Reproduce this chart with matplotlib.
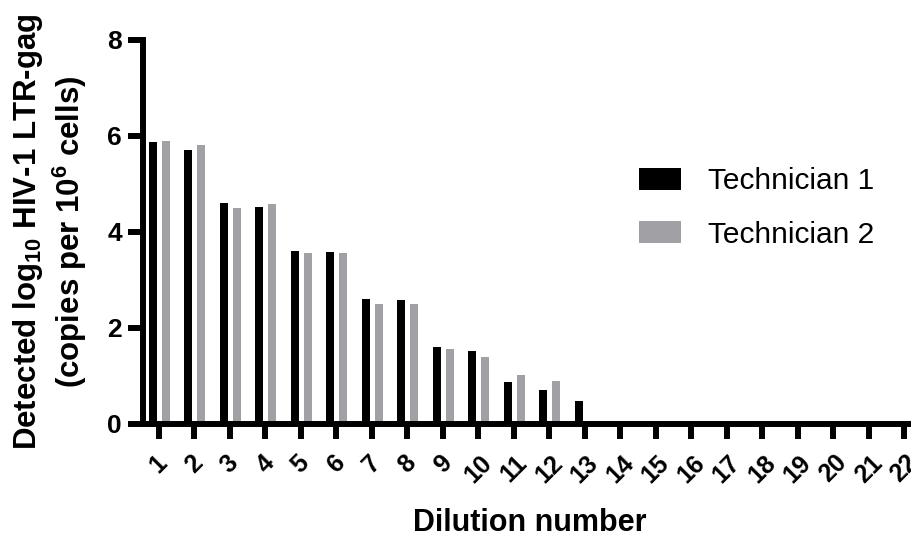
import matplotlib
matplotlib.use("Agg")
import matplotlib.pyplot as plt
import numpy as np

plt.rcParams['font.family'] = ['Liberation Sans', 'DejaVu Sans']
plt.rcParams['mathtext.fontset'] = 'custom'
plt.rcParams['mathtext.rm'] = 'Liberation Sans:bold'
plt.rcParams['mathtext.bf'] = 'Liberation Sans:bold'

dilutions = [str(i) for i in range(1, 23)]
tech1 = [5.88, 5.71, 4.60, 4.53, 3.61, 3.58, 2.61, 2.58, 1.61, 1.52, 0.87, 0.71, 0.47,
         0, 0, 0, 0, 0, 0, 0, 0, 0]
tech2 = [5.89, 5.81, 4.51, 4.59, 3.57, 3.57, 2.49, 2.51, 1.56, 1.40, 1.03, 0.90, 0,
         0, 0, 0, 0, 0, 0, 0, 0, 0]

fig = plt.figure(figsize=(9.12, 5.39), dpi=100)
ax = fig.add_axes([0.1565, 0.2134, 0.8435, 0.7124])

x = np.arange(1, len(dilutions) + 1)
w = 0.23
ax.bar(x - 0.17, tech1, width=w, color='black', label='Technician 1')
ax.bar(x + 0.20, tech2, width=w, color='#a1a1a5', label='Technician 2')

ax.set_xlim(0.55, 22.22)
ax.set_ylim(0, 8)
ax.set_yticks([0, 2, 4, 6, 8])
ax.set_xticks(x)
ax.set_xticklabels(dilutions, rotation=45, ha='center', va='top', fontsize=18, fontweight='bold')
for lab in ax.get_yticklabels():
    lab.set_fontsize(19)
    lab.set_fontweight('bold')

for s in ['top', 'right']:
    ax.spines[s].set_visible(False)
for s in ['left', 'bottom']:
    ax.spines[s].set_linewidth(4.3)
    ax.spines[s].set_capstyle('projecting')
ax.tick_params(axis='both', direction='out', width=4.3, length=11, color='black')
ax.tick_params(axis='x', pad=8)
ax.tick_params(axis='y', pad=4)

fig.text(0.581, 0.03, 'Dilution number', fontsize=22, fontweight='bold',
         ha='center', va='center')
fig.text(0.055, 0.57, 'Detected log$_{10}$ HIV-1 LTR-gag\n(copies per 10$^{6}$ cells)',
         fontsize=22.5, fontweight='bold', rotation=90, ha='center', va='center',
         multialignment='center', linespacing=1.2)

leg = ax.legend(loc='upper left', bbox_to_anchor=(0.63, 0.70), frameon=False,
                fontsize=21.5, handlelength=1.4, handleheight=0.75, handletextpad=0.9,
                labelspacing=0.85, borderaxespad=0)

fig.savefig('out.png', dpi=100)
